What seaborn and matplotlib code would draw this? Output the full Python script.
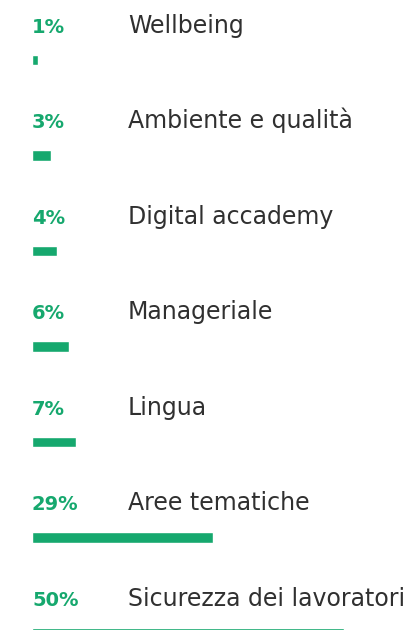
import matplotlib
matplotlib.use("Agg")
import matplotlib.pyplot as plt
import seaborn as sns
import pandas as pd

# Training hours by area (share of total, %)
categories = [
    "Wellbeing",
    "Ambiente e qualità",
    "Digital accademy",
    "Manageriale",
    "Lingua",
    "Aree tematiche",
    "Sicurezza dei lavoratori",
]
shares = [1, 3, 4, 6, 7, 29, 50]
pct_labels = ["1%", "3%", "4%", "6%", "7%", "29%", "50%"]

GREEN = "#16a86e"
TEXT = "#303030"

sns.set_theme(style="white")
plt.rcParams["font.family"] = ["DejaVu Sans"]

df = pd.DataFrame({"category": categories, "share": shares})

W, H, DPI = 414, 630, 100
fig = plt.figure(figsize=(W / DPI, H / DPI), dpi=DPI)
ax = fig.add_axes([0, 0, 1, 1])

sns.barplot(
    data=df, x="share", y="category", order=categories,
    color=GREEN, saturation=1, width=0.11, ax=ax, orient="h",
)

# scale: 6.24 px per percentage point, bars start 32 px from the left edge
px_per_unit = 6.24
ax.set_xlim(-32 / px_per_unit, (W - 32) / px_per_unit)
row_px = 95.5
first_px = 60
ax.set_ylim((H - first_px) / row_px, -first_px / row_px)

label_x = (128 - 32) / px_per_unit
for i, (cat, lab) in enumerate(zip(categories, pct_labels)):
    yb = i - 27.5 / row_px
    ax.text(0, yb, lab, ha="left", va="baseline", color=GREEN,
            fontsize=14, fontweight="bold")
    ax.text(label_x, yb, cat, ha="left", va="baseline", color=TEXT,
            fontsize=17)

ax.set_axis_off()
fig.savefig("out.png", dpi=DPI)
